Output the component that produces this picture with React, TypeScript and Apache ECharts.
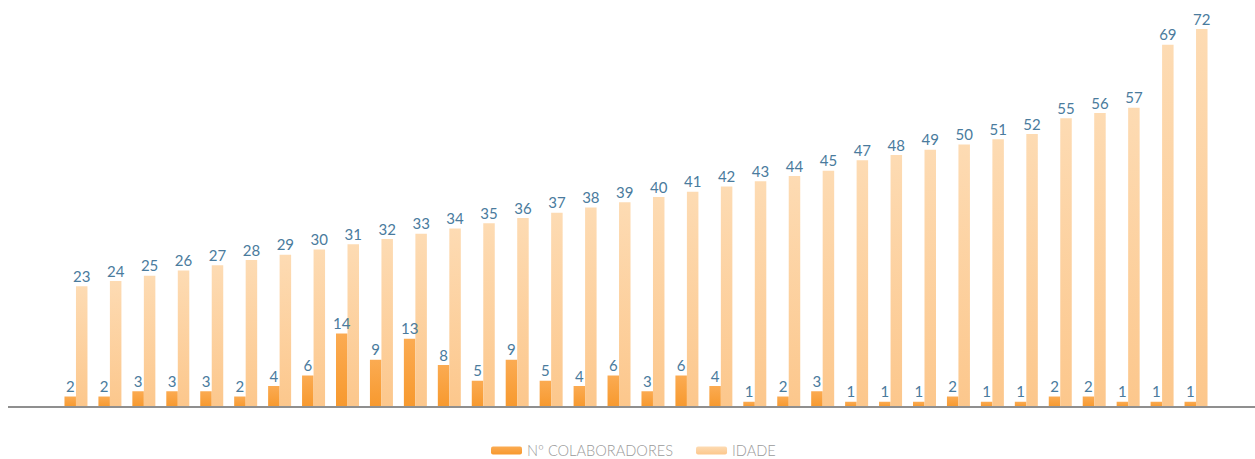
import React, { useEffect, useRef } from "react";
import * as echarts from "echarts";

const categories = ["23","24","25","26","27","28","29","30","31","32","33","34","35","36","37","38","39","40","41","42","43","44","45","47","48","49","50","51","52","55","56","57","69","72"];
const idade = [23,24,25,26,27,28,29,30,31,32,33,34,35,36,37,38,39,40,41,42,43,44,45,47,48,49,50,51,52,55,56,57,69,72];
const colaboradores = [2,2,3,3,3,2,4,6,14,9,13,8,5,9,5,4,6,3,6,4,1,2,3,1,1,1,2,1,1,2,2,1,1,1];

export default function App() {
  const ref = useRef<HTMLDivElement>(null);
  useEffect(() => {
    if (!ref.current) return;
    const chart = echarts.init(ref.current, null, { renderer: "svg" });
    const labelStyle = {
      show: true,
      position: "top" as const,
      distance: 3,
      color: "#4a7b9d",
      fontSize: 15,
      fontFamily: "Lato",
      fontWeight: 400 as any,
    };
    chart.setOption({
      animation: false,
      backgroundColor: "#ffffff",
      grid: { left: 59, right: 42, top: 29, bottom: 52, containLabel: false },
      xAxis: {
        type: "category",
        data: categories,
        axisLine: { show: false },
        axisTick: { show: false },
        axisLabel: { show: false },
      },
      yAxis: {
        type: "value",
        min: 0,
        max: 72,
        show: false,
        splitLine: { show: false },
      },
      legend: {
        left: 491,
        top: 443,
        padding: 0,
        itemWidth: 31,
        itemHeight: 8,
        itemGap: 23,
        textStyle: { color: "#9a9a9a", fontSize: 14.6, fontFamily: "Lato", fontWeight: 300 as any },
        data: ["Nº COLABORADORES", "IDADE"],
      },
      graphic: [
        {
          type: "line",
          shape: { x1: 8, y1: 407, x2: 1255, y2: 407 },
          style: { stroke: "#8f8f8f", lineWidth: 2 },
          z: 10,
        },
      ],
      series: [
        {
          name: "Nº COLABORADORES",
          type: "bar",
          data: colaboradores,
          barWidth: 11.5,
          barGap: "0%",
          itemStyle: {
            color: new echarts.graphic.LinearGradient(0, 0, 0, 1, [
              { offset: 0, color: "#fbab52" },
              { offset: 1, color: "#f7992e" },
            ]),
          },
          label: labelStyle,
        },
        {
          name: "IDADE",
          type: "bar",
          data: idade,
          barWidth: 11.5,
          itemStyle: {
            color: new echarts.graphic.LinearGradient(0, 0, 0, 1, [
              { offset: 0, color: "#fddbb3" },
              { offset: 1, color: "#fcc78c" },
            ]),
          },
          label: labelStyle,
        },
      ],
    });
    return () => chart.dispose();
  }, []);
  return (
    <div
      ref={ref}
      style={{ position: "absolute", left: 0, top: 0, width: 1255, height: 459 }}
    />
  );
}
